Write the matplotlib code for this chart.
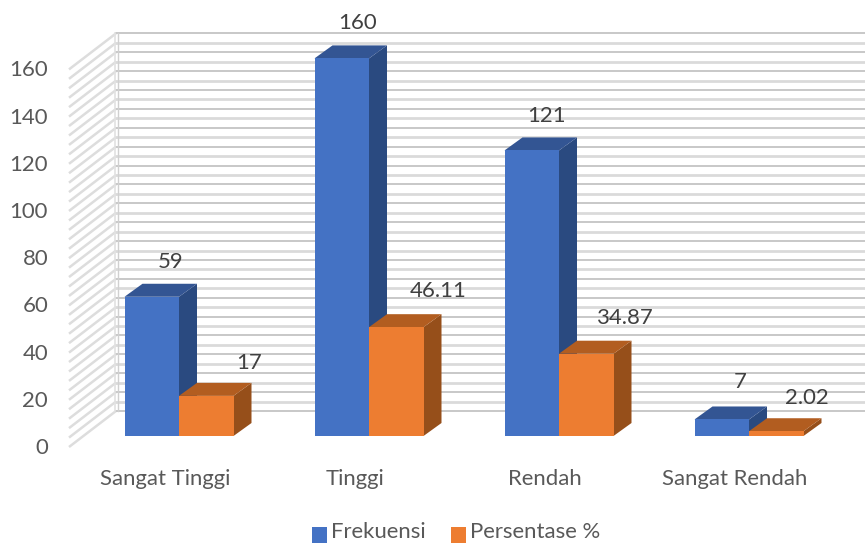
import matplotlib
matplotlib.use('Agg')
import matplotlib.pyplot as plt
from matplotlib.patches import Polygon, Rectangle

categories = ['Sangat Tinggi', 'Tinggi', 'Rendah', 'Sangat Rendah']
frekuensi = [59, 160, 121, 7]
persentase = [17, 46.11, 34.87, 2.02]
persentase_labels = ['17', '46.11', '34.87', '2.02']
y_ticks = [0, 20, 40, 60, 80, 100, 120, 140, 160]

W, H = 865, 543
plt.rcParams['font.family'] = ['Lato', 'DejaVu Sans']
FS = 15.9

# pixel layout of the fake 3d box
px_per_unit = 2.36
front_zero = 447      # y of value 0 on the left wall front edge
wall_x0, wall_x1 = 69, 116
wall_dy = 36
bar_base = 436
bar_w = 54.5
bar_start = 124.5
group_step = 190
depth_x, depth_y = 18, 13

fig = plt.figure(figsize=(W / 100, H / 100), dpi=100)
ax = fig.add_axes([0, 0, 1, 1])
ax.set_xlim(0, W)
ax.set_ylim(H, 0)
ax.axis('off')


def draw_bar(x, value, front, top, side):
    h = value * px_per_unit
    y = bar_base - h
    ax.add_patch(Polygon([(x + bar_w, bar_base), (x + bar_w + depth_x, bar_base - depth_y),
                          (x + bar_w + depth_x, y - depth_y), (x + bar_w, y)], fc=side, ec='none', zorder=3))
    ax.add_patch(Polygon([(x, y), (x + depth_x, y - depth_y), (x + bar_w + depth_x, y - depth_y),
                          (x + bar_w, y)], fc=top, ec='none', zorder=3))
    ax.add_patch(Rectangle((x, y), bar_w, h, fc=front, ec='none', zorder=4))
    return y


# gridlines, every 4 units, on side wall and back wall
for v in range(0, 161, 4):
    y = front_zero - v * px_per_unit
    ax.plot([wall_x0, wall_x1], [y, y - wall_dy], color='#dddddd', lw=1.8, zorder=1, solid_capstyle='butt')
    lw = 2.0 if v % 8 else 1.4
    col = '#dadada' if v % 8 else '#c8c8c8'
    ax.plot([wall_x1, W], [y - wall_dy, y - wall_dy], color=col, lw=lw, zorder=1)

# wall corner
ax.plot([wall_x1 - 1, wall_x1 - 1], [front_zero - wall_dy, front_zero - 160 * px_per_unit - wall_dy],
        color='#e2e2e2', lw=1.2, zorder=2)
ax.plot([wall_x1 + 1.5, wall_x1 + 1.5], [front_zero - wall_dy, front_zero - 160 * px_per_unit - wall_dy],
        color='#d0d0d0', lw=1.0, zorder=2)

for v in y_ticks:
    ax.text(48, front_zero - v * px_per_unit + 1, str(v), ha='right', va='center', fontsize=FS, color='#595959')

# label offsets from the front face of each bar
freq_dx = [19, 16, 15, 18]
freq_dy = [35, 35, 34, 37]
pers_dx = [43, 42, 39, 31]
pers_dy = [33, 36, 36, 33]

for i, cat in enumerate(categories):
    x = bar_start + i * group_step
    y1 = draw_bar(x, frekuensi[i], '#4472c4', '#335593', '#2a4a80')
    y2 = draw_bar(x + bar_w, persentase[i], '#ed7d31', '#b25d20', '#964f1a')
    ax.text(x + bar_w / 2 + freq_dx[i], y1 - freq_dy[i], str(frekuensi[i]), ha='center', va='center',
            fontsize=FS, color='#404040', zorder=6)
    ax.text(x + bar_w * 1.5 + pers_dx[i], y2 - pers_dy[i], persentase_labels[i], ha='center', va='center',
            fontsize=FS, color='#404040', zorder=6)
    ax.text(x + bar_w - 14, 479, cat, ha='center', va='center', fontsize=FS, color='#595959')

# legend
ax.add_patch(Rectangle((312, 527), 15, 16, fc='#4472c4', ec='none'))
ax.text(331, 532, 'Frekuensi', ha='left', va='center', fontsize=FS, color='#595959')
ax.add_patch(Rectangle((451, 527), 15, 16, fc='#ed7d31', ec='none'))
ax.text(470, 532, 'Persentase %', ha='left', va='center', fontsize=FS, color='#595959')

fig.savefig('out.png', dpi=100)
